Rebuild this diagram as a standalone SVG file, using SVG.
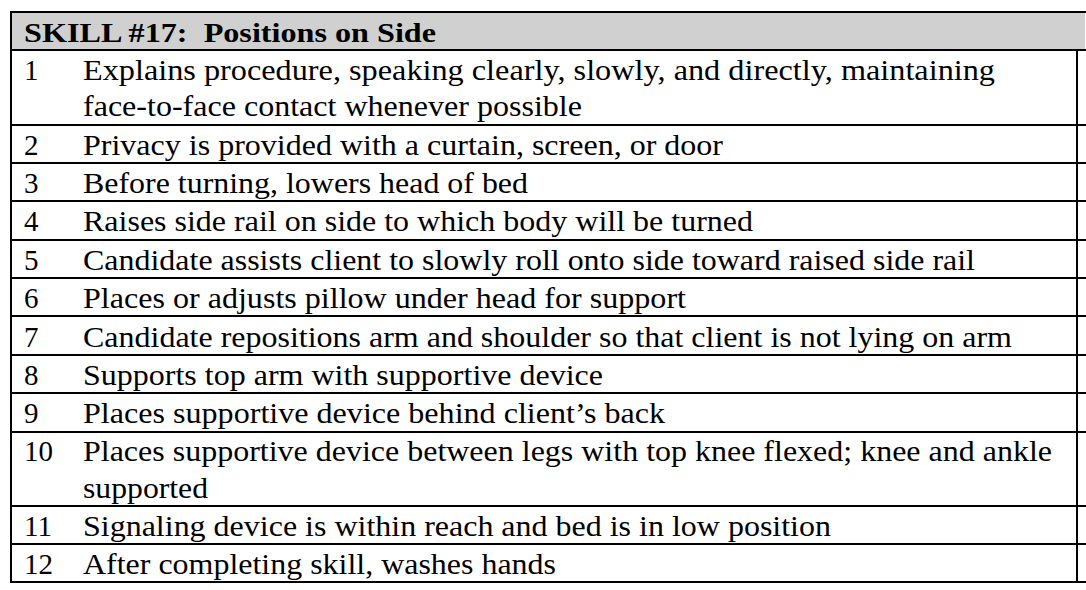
<svg xmlns="http://www.w3.org/2000/svg" width="1086" height="590" viewBox="0 0 1086 590">
<style>
text{font-family:"Liberation Serif","Times New Roman",serif;font-size:29px;fill:#000}
.h{font-weight:bold;font-size:28px}
line{stroke:#000;stroke-width:2}
</style>
<rect width="1086" height="590" fill="#fff"/>
<g id="header"><rect x="11" y="12" width="1074" height="38" fill="#d0d0d0"/><text class="h" x="24" y="42" xml:space="preserve" textLength="412" lengthAdjust="spacingAndGlyphs">SKILL #17:  Positions on Side</text></g>
<g id="grid">
<line x1="11" y1="12" x2="1086" y2="12"/>
<line x1="11" y1="50" x2="1086" y2="50"/>
<line x1="11" y1="125" x2="1086" y2="125"/>
<line x1="11" y1="163" x2="1086" y2="163"/>
<line x1="11" y1="201" x2="1086" y2="201"/>
<line x1="11" y1="240" x2="1086" y2="240"/>
<line x1="11" y1="278" x2="1086" y2="278"/>
<line x1="11" y1="316" x2="1086" y2="316"/>
<line x1="11" y1="355" x2="1086" y2="355"/>
<line x1="11" y1="393" x2="1086" y2="393"/>
<line x1="11" y1="432" x2="1086" y2="432"/>
<line x1="11" y1="506" x2="1086" y2="506"/>
<line x1="11" y1="544" x2="1086" y2="544"/>
<line x1="11" y1="582" x2="1086" y2="582"/>
<line x1="11" y1="11" x2="11" y2="583"/>
<line x1="1077" y1="50" x2="1077" y2="583"/>
</g>
<g id="rows">
<text x="24" y="80">1</text><text x="83" y="80" textLength="912" lengthAdjust="spacingAndGlyphs">Explains procedure, speaking clearly, slowly, and directly, maintaining</text><text x="83" y="116" textLength="499" lengthAdjust="spacingAndGlyphs">face-to-face contact whenever possible</text>
<text x="24" y="155">2</text><text x="83" y="155" textLength="640" lengthAdjust="spacingAndGlyphs">Privacy is provided with a curtain, screen, or door</text>
<text x="24" y="193">3</text><text x="83" y="193" textLength="445" lengthAdjust="spacingAndGlyphs">Before turning, lowers head of bed</text>
<text x="24" y="231">4</text><text x="83" y="231" textLength="670" lengthAdjust="spacingAndGlyphs">Raises side rail on side to which body will be turned</text>
<text x="24" y="270">5</text><text x="83" y="270" textLength="892" lengthAdjust="spacingAndGlyphs">Candidate assists client to slowly roll onto side toward raised side rail</text>
<text x="24" y="308">6</text><text x="83" y="308" textLength="603" lengthAdjust="spacingAndGlyphs">Places or adjusts pillow under head for support</text>
<text x="24" y="347">7</text><text x="83" y="347" textLength="929" lengthAdjust="spacingAndGlyphs">Candidate repositions arm and shoulder so that client is not lying on arm</text>
<text x="24" y="385">8</text><text x="83" y="385" textLength="520" lengthAdjust="spacingAndGlyphs">Supports top arm with supportive device</text>
<text x="24" y="423">9</text><text x="83" y="423" textLength="582" lengthAdjust="spacingAndGlyphs">Places supportive device behind client’s back</text>
<text x="24" y="461">10</text><text x="83" y="461" textLength="969" lengthAdjust="spacingAndGlyphs">Places supportive device between legs with top knee flexed; knee and ankle</text><text x="83" y="498" textLength="125" lengthAdjust="spacingAndGlyphs">supported</text>
<text x="24" y="536">11</text><text x="83" y="536" textLength="748" lengthAdjust="spacingAndGlyphs">Signaling device is within reach and bed is in low position</text>
<text x="24" y="574">12</text><text x="83" y="574" textLength="473" lengthAdjust="spacingAndGlyphs">After completing skill, washes hands</text>
</g>
</svg>
